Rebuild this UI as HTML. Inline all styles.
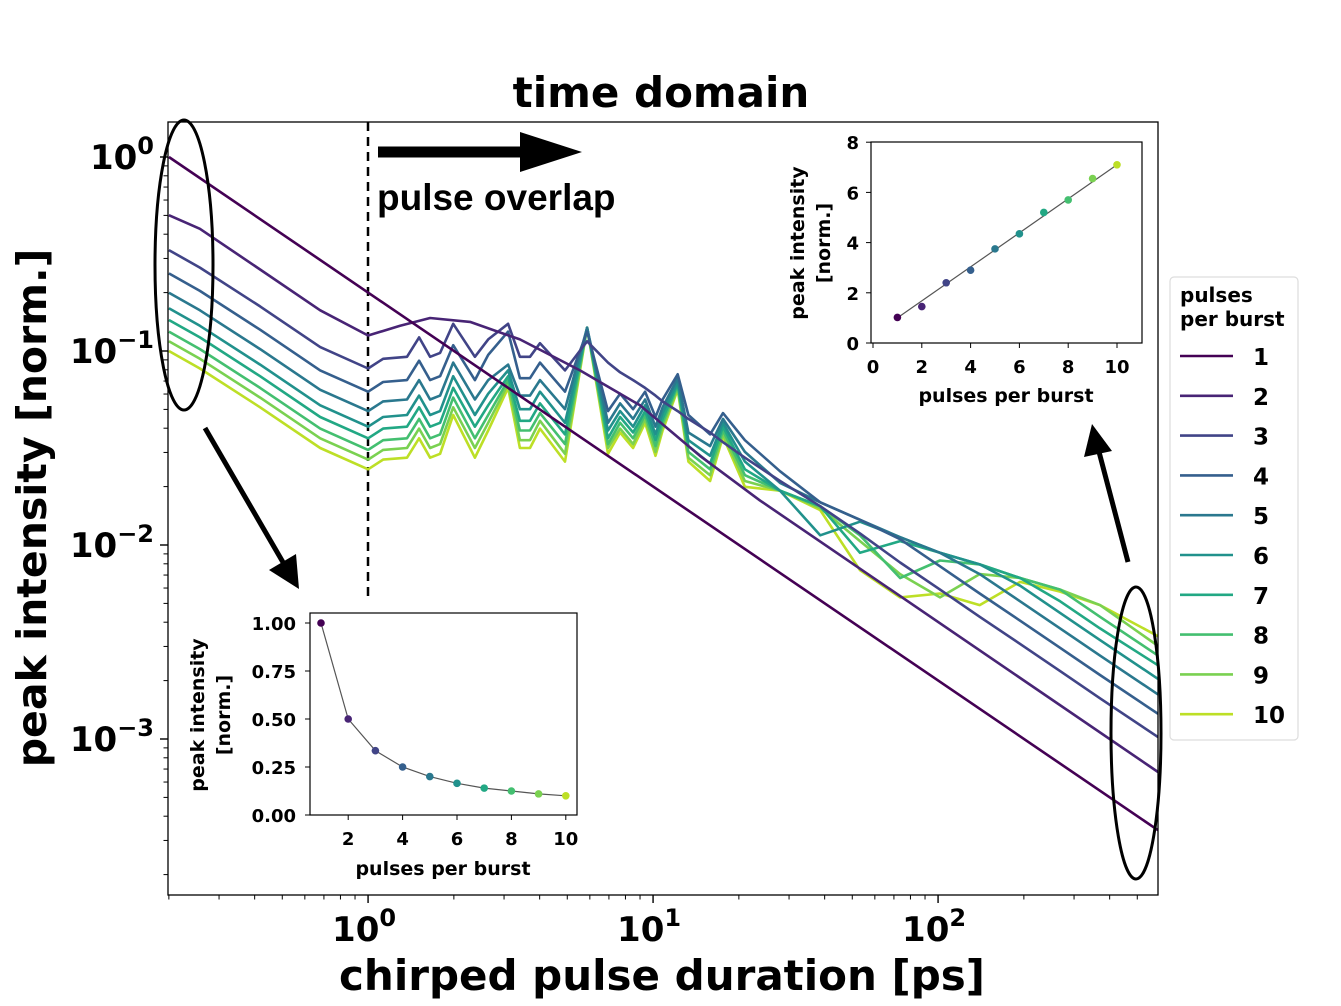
<!DOCTYPE html>
<html><head><meta charset="utf-8"><style>
html,body{margin:0;padding:0;background:#fff;}
svg{display:block;font-family:"DejaVu Sans","Liberation Sans",sans-serif;}
</style></head><body>
<svg id="chart" width="1341" height="1006" viewBox="0 0 1341 1006">
<rect width="1341" height="1006" fill="#fff"/>
<g id="main-plot"></g>
<g id="ann"></g>
<g id="inset-top"></g>
<g id="inset-bot"></g>
<g id="legend"></g>
</svg>
<script>
// ---- main chart data (log10 of normalized peak intensity) ----
const tauGrid = [0.2,0.257,0.418,0.679,1.0,1.129,1.37,1.51,1.65,1.79,1.99,2.37,2.64,3.10,3.41,3.70,4.01,4.91,5.87,6.95,7.66,8.51,9.38,10.2,10.8,12.2,13.3,15.85,17.6,21.0,27.9,38.6,53.2,73.6,101.6,140,194,268,370,591];
const series1Tau = [0.2, 591];
const series1LogI = [0, -3.47];
const series2Tau = [0.2,0.257,0.418,0.679,1,1.295,1.65,2.28,3.41,5.54,9.0,14.6,23.7,591];
const series2LogI = [-0.30,-0.37,-0.58,-0.79,-0.92,-0.87,-0.83,-0.85,-0.94,-1.10,-1.28,-1.54,-1.77,-3.17];
const series3LogI = [-0.48,-0.57,-0.77,-0.98,-1.09,-1.04,-1.03,-0.93,-1.03,-1.01,-0.86,-1.03,-0.94,-0.86,-1.03,-1.03,-0.96,-1.10,-0.95,-1.06,-1.11,-1.15,-1.19,-1.23,-1.26,-1.31,-1.35,-1.42,-1.47,-1.55,-1.67,-1.80,-1.94,-2.09,-2.23,-2.37,-2.51,-2.65,-2.79,-2.99];
const series4LogI = [-0.60,-0.69,-0.89,-1.10,-1.21,-1.16,-1.15,-1.05,-1.15,-1.13,-0.97,-1.15,-1.02,-0.90,-1.14,-1.14,-1.06,-1.21,-0.90,-1.31,-1.22,-1.30,-1.21,-1.34,-1.25,-1.12,-1.33,-1.43,-1.32,-1.46,-1.62,-1.78,-1.87,-1.97,-2.11,-2.25,-2.39,-2.53,-2.67,-2.87];
const series5LogI = [-0.70,-0.79,-0.99,-1.20,-1.31,-1.26,-1.25,-1.15,-1.25,-1.23,-1.06,-1.25,-1.15,-1.07,-1.23,-1.23,-1.15,-1.30,-0.88,-1.37,-1.27,-1.35,-1.25,-1.39,-1.29,-1.14,-1.42,-1.49,-1.35,-1.52,-1.68,-1.78,-1.87,-1.96,-2.04,-2.15,-2.29,-2.43,-2.57,-2.77];
const series6LogI = [-0.78,-0.87,-1.07,-1.28,-1.39,-1.34,-1.33,-1.23,-1.33,-1.31,-1.13,-1.33,-1.22,-1.10,-1.30,-1.30,-1.21,-1.37,-0.88,-1.41,-1.31,-1.39,-1.28,-1.43,-1.32,-1.16,-1.46,-1.54,-1.37,-1.57,-1.72,-1.95,-1.88,-1.96,-2.04,-2.10,-2.21,-2.35,-2.49,-2.69];
const series7LogI = [-0.84,-0.93,-1.13,-1.34,-1.45,-1.40,-1.39,-1.29,-1.39,-1.37,-1.19,-1.39,-1.28,-1.13,-1.36,-1.36,-1.27,-1.43,-0.88,-1.45,-1.34,-1.42,-1.31,-1.46,-1.35,-1.17,-1.49,-1.58,-1.39,-1.61,-1.72,-1.80,-2.04,-1.98,-2.04,-2.10,-2.17,-2.29,-2.43,-2.62];
const series8LogI = [-0.90,-0.99,-1.19,-1.40,-1.51,-1.46,-1.45,-1.35,-1.45,-1.43,-1.24,-1.45,-1.33,-1.15,-1.41,-1.41,-1.32,-1.48,-0.88,-1.48,-1.37,-1.45,-1.33,-1.49,-1.37,-1.18,-1.52,-1.61,-1.41,-1.64,-1.72,-1.80,-1.95,-2.17,-2.08,-2.10,-2.17,-2.23,-2.37,-2.57];
const series9LogI = [-0.95,-1.04,-1.24,-1.45,-1.56,-1.51,-1.50,-1.40,-1.50,-1.48,-1.29,-1.50,-1.37,-1.17,-1.46,-1.46,-1.36,-1.53,-0.88,-1.50,-1.40,-1.48,-1.35,-1.52,-1.39,-1.19,-1.55,-1.64,-1.43,-1.67,-1.72,-1.81,-1.98,-2.15,-2.27,-2.15,-2.17,-2.23,-2.31,-2.52];
const series10LogI = [-1.00,-1.09,-1.29,-1.50,-1.61,-1.56,-1.55,-1.45,-1.55,-1.53,-1.33,-1.55,-1.41,-1.19,-1.50,-1.50,-1.40,-1.57,-0.88,-1.53,-1.42,-1.50,-1.37,-1.54,-1.41,-1.20,-1.57,-1.67,-1.44,-1.70,-1.72,-1.82,-2.13,-2.27,-2.25,-2.31,-2.19,-2.24,-2.31,-2.47];
const seriesNames = ["1","2","3","4","5","6","7","8","9","10"];
const colors = ["#440154","#482475","#414487","#355f8d","#2a788e","#21918c","#22a884","#44bf70","#7ad151","#bddf26"];
const xMajorTicks = [1, 10, 100];
const xTickLabels = ["0","1","2"];
const yMajorTicks = [0, -1, -2, -3];
const yTickLabels = ["0","\u22121","\u22122","\u22123"];
// inset data
const pulses = [1,2,3,4,5,6,7,8,9,10];
const peakLinear = [1.02,1.45,2.4,2.9,3.75,4.35,5.2,5.7,6.55,7.1];
const fitLinear = [1.0,7.1];
const peakInverse = [1.0,0.5,0.335,0.25,0.2,0.165,0.14,0.125,0.11,0.1];
const insetTopYTicks = [0,2,4,6,8];
const insetTopXTicks = [0,2,4,6,8,10];
const insetBotYTicks = ["0.00","0.25","0.50","0.75","1.00"];
const insetBotXTicks = [2,4,6,8,10];

const NS = "http://www.w3.org/2000/svg";
function mk(tag, attrs, parent){const e=document.createElementNS(NS,tag);for(const k in attrs)e.setAttribute(k,attrs[k]);parent.appendChild(e);return e;}
const L=168,R=1158,T=122,B=895;
const xS = t => L + (Math.log10(t)+0.702)*285;
const yS = v => 157 - v*194;
const main = document.getElementById("main-plot");

const defs = mk("defs",{},main);
const cp = mk("clipPath",{id:"clipMain"},defs);
mk("rect",{x:L,y:T,width:R-L,height:B-T},cp);

let e = mk("line",{x1:368,y1:T,x2:368,y2:613,stroke:"#000","stroke-width":2.5,"stroke-dasharray":"9,6"},main);



const seriesLogs = [series1LogI, series2LogI, series3LogI, series4LogI, series5LogI, series6LogI, series7LogI, series8LogI, series9LogI, series10LogI];
const seriesTaus = [series1Tau, series2Tau, tauGrid, tauGrid, tauGrid, tauGrid, tauGrid, tauGrid, tauGrid, tauGrid];
const lineG = mk("g",{"clip-path":"url(#clipMain)"},main);
for(let s=9;s>=0;s--){
  const ts=seriesTaus[s], ls=seriesLogs[s];
  const d = ls.map((v,i)=>(i?"L":"M")+xS(ts[i]).toFixed(1)+","+yS(v).toFixed(1)).join("");
  const p = mk("path",{d:d,fill:"none",stroke:colors[s],"stroke-width":2.6,"stroke-linejoin":"round"},lineG);
  
  
}
e = mk("rect",{x:L,y:T,width:R-L,height:B-T,fill:"none",stroke:"#000","stroke-width":1.3},main);



for(let dec=-1;dec<=2;dec++){for(let m=1;m<=9;m++){const t=m*Math.pow(10,dec);const x=xS(t);if(x<L-0.5||x>R+0.5)continue;
  mk("line",{x1:x,y1:B,x2:x,y2:B+(m===1?8:4.5),stroke:"#000","stroke-width":m===1?1.4:1},main);}}
xMajorTicks.forEach((t,i)=>{const g=mk("text",{x:xS(t)-4,y:941,"font-size":34,"font-weight":"bold","text-anchor":"middle"},main);
  
  
  g.innerHTML='10<tspan dy="-15" font-size="24">'+xTickLabels[i]+'</tspan>';});
for(let dec=-4;dec<=0;dec++){for(let m=1;m<=9;m++){const v=dec+Math.log10(m);const y=yS(v);if(y<T-0.5||y>B+0.5)continue;
  mk("line",{x1:L,y1:y,x2:L-(m===1?8:4.5),y2:y,stroke:"#000","stroke-width":m===1?1.4:1},main);}}
yMajorTicks.forEach((v,i)=>{const g=mk("text",{x:154,y:yS(v)+12,"font-size":34,"font-weight":"bold","text-anchor":"end"},main);
  
  
  g.innerHTML='10<tspan dy="-15" font-size="24">'+yTickLabels[i]+'</tspan>';});

e=mk("text",{x:661,y:107,"font-size":42,"font-weight":"bold","text-anchor":"middle"},main);e.textContent="time domain";


e=mk("text",{x:662,y:990,"font-size":42,"font-weight":"bold","text-anchor":"middle"},main);e.textContent="chirped pulse duration [ps]";


e=mk("text",{x:0,y:0,"font-size":41,"font-weight":"bold","text-anchor":"middle",transform:"translate(46,508) rotate(-90)"},main);e.textContent="peak intensity [norm.]";



const ann=document.getElementById("ann");
e=mk("path",{d:"M378,152 L530,152",stroke:"#000","stroke-width":11,fill:"none"},ann);


mk("polygon",{points:"520,132 582,152 520,172",fill:"#000"},ann);
e=mk("text",{x:377,y:210,"font-size":37,"font-weight":"bold","font-family":"Liberation Sans, sans-serif"},ann);e.textContent="pulse overlap";


e=mk("ellipse",{cx:184,cy:265,rx:29,ry:145,fill:"none",stroke:"#000","stroke-width":3},ann);


e=mk("ellipse",{cx:1136,cy:733,rx:25,ry:146,fill:"none",stroke:"#000","stroke-width":3},ann);


e=mk("line",{x1:205,y1:428,x2:284,y2:564,stroke:"#000","stroke-width":5},ann);


mk("polygon",{points:"269,570 299,589 296,554",fill:"#000"},ann);
e=mk("line",{x1:1128,y1:562,x2:1098,y2:448,stroke:"#000","stroke-width":5},ann);


mk("polygon",{points:"1084,457 1092,424 1112,451",fill:"#000"},ann);

const it=document.getElementById("inset-top");
mk("rect",{x:785,y:128,width:370,height:285,fill:"#fff"},it);
const tx=v=>873+24.4*v, ty=v=>343-25.1*v;
mk("rect",{x:871,y:142,width:271,height:201,fill:"none",stroke:"#000","stroke-width":1.2},it);
insetTopXTicks.forEach(v=>{mk("line",{x1:tx(v),y1:343,x2:tx(v),y2:348,stroke:"#000"},it);
  const t=mk("text",{x:tx(v),y:373,"font-size":18,"font-weight":"bold","text-anchor":"middle"},it);t.textContent=v;
  
  });
insetTopYTicks.forEach(v=>{mk("line",{x1:871,y1:ty(v),x2:866,y2:ty(v),stroke:"#000"},it);
  const t=mk("text",{x:859,y:ty(v)+7,"font-size":18,"font-weight":"bold","text-anchor":"end"},it);t.textContent=v;
  
  });
e=mk("line",{x1:tx(pulses[0]),y1:ty(fitLinear[0]),x2:tx(pulses[9]),y2:ty(fitLinear[1]),stroke:"#555","stroke-width":1.2},it);


pulses.forEach((p,i)=>{const c=mk("circle",{cx:tx(p),cy:ty(peakLinear[i]),r:3.8,fill:colors[i]},it);
  
  });
e=mk("text",{x:1006,y:402,"font-size":19,"font-weight":"bold","text-anchor":"middle"},it);e.textContent="pulses per burst";


e=mk("text",{transform:"translate(804,243) rotate(-90)","font-size":19,"font-weight":"bold","text-anchor":"middle"},it);e.textContent="peak intensity";


e=mk("text",{transform:"translate(830,243) rotate(-90)","font-size":19,"font-weight":"bold","text-anchor":"middle"},it);e.textContent="[norm.]";

const ib=document.getElementById("inset-bot");
mk("rect",{x:182,y:600,width:405,height:285,fill:"#fff"},ib);
const bx=v=>321+27.2*(v-1), by=v=>815-192*v;
mk("rect",{x:310,y:613,width:267,height:202,fill:"none",stroke:"#000","stroke-width":1.2},ib);
insetBotXTicks.forEach(v=>{mk("line",{x1:bx(v),y1:815,x2:bx(v),y2:820,stroke:"#000"},ib);
  const t=mk("text",{x:bx(v),y:845,"font-size":18,"font-weight":"bold","text-anchor":"middle"},ib);t.textContent=v;
  
  });
insetBotYTicks.forEach(s=>{const v=parseFloat(s);mk("line",{x1:310,y1:by(v),x2:305,y2:by(v),stroke:"#000"},ib);
  const t=mk("text",{x:296,y:by(v)+7,"font-size":18,"font-weight":"bold","text-anchor":"end"},ib);t.textContent=s;
  
  });
e=mk("path",{d:pulses.map((p,i)=>(i?"L":"M")+bx(p)+","+by(peakInverse[i])).join(""),fill:"none",stroke:"#555","stroke-width":1.2},ib);


pulses.forEach((p,i)=>{const c=mk("circle",{cx:bx(p),cy:by(peakInverse[i]),r:3.8,fill:colors[i]},ib);
  
  });
e=mk("text",{x:443,y:875,"font-size":19,"font-weight":"bold","text-anchor":"middle"},ib);e.textContent="pulses per burst";


e=mk("text",{transform:"translate(204,715) rotate(-90)","font-size":19,"font-weight":"bold","text-anchor":"middle"},ib);e.textContent="peak intensity";


e=mk("text",{transform:"translate(230,715) rotate(-90)","font-size":19,"font-weight":"bold","text-anchor":"middle"},ib);e.textContent="[norm.]";

const lg=document.getElementById("legend");
mk("rect",{x:1170,y:277,width:128,height:463,rx:4,fill:"#fff",stroke:"#ddd","stroke-width":1.2},lg);
e=mk("text",{x:1180,y:302,"font-size":20,"font-weight":"bold"},lg);e.textContent="pulses";


mk("text",{x:1180,y:326,"font-size":20,"font-weight":"bold"},lg).textContent="per burst";
seriesNames.forEach((n,i)=>{const y=356+39.8*i;
  const g=mk("g",{},lg);
  
  
  mk("line",{x1:1180,y1:y,x2:1233,y2:y,stroke:colors[i],"stroke-width":2.6},g);
  const t=mk("text",{x:1253,y:y+9,"font-size":23,"font-weight":"bold"},g);t.textContent=n;});
</script>
</body></html>
